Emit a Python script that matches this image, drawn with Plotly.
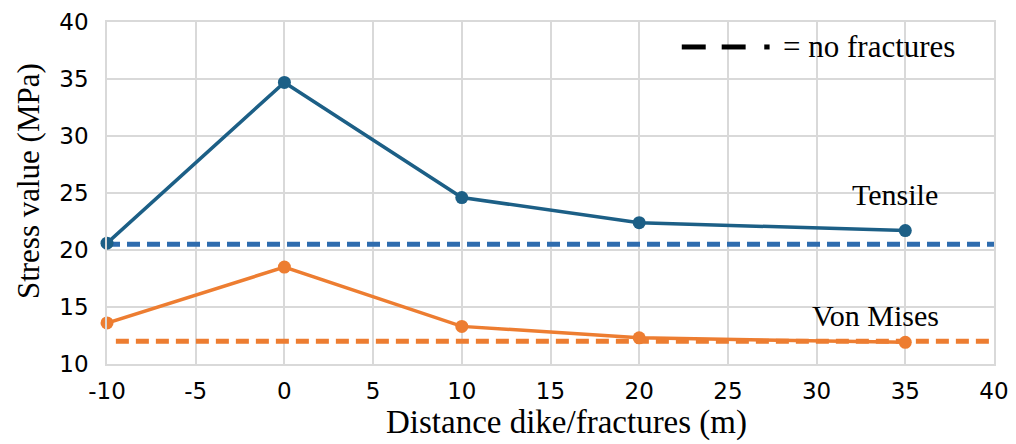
import plotly.graph_objects as go

distance = [-10, 0, 10, 20, 35]
tensile = [20.6, 34.7, 24.6, 22.4, 21.7]
von_mises = [13.6, 18.5, 13.3, 12.3, 11.9]

tensile_nofrac_x = [-10, 40]
tensile_nofrac = [20.5, 20.5]
vm_nofrac_x = [-9.5, 40]
vm_nofrac = [12.0, 12.0]

x_ticks = [-10, -5, 0, 5, 10, 15, 20, 25, 30, 35, 40]
x_tick_labels = ["-10", "-5", "0", "5", "10", "15", "20", "25", "30", "35", "40"]
y_ticks = [10, 15, 20, 25, 30, 35, 40]

blue = "#1c5f86"
blue_dash = "#2e6cae"
orange = "#ed7d31"

fig = go.Figure()
fig.add_trace(go.Scatter(x=tensile_nofrac_x, y=tensile_nofrac, mode="lines",
                         line=dict(color=blue_dash, width=5, dash="13px,7px"), showlegend=False))
fig.add_trace(go.Scatter(x=vm_nofrac_x, y=vm_nofrac, mode="lines",
                         line=dict(color=orange, width=5, dash="13px,7px"), showlegend=False))
fig.add_trace(go.Scatter(x=distance, y=tensile, mode="lines+markers",
                         line=dict(color=blue, width=3.5), marker=dict(size=13, color=blue),
                         showlegend=False, cliponaxis=False))
fig.add_trace(go.Scatter(x=distance, y=von_mises, mode="lines+markers",
                         line=dict(color=orange, width=3.5), marker=dict(size=13, color=orange),
                         showlegend=False, cliponaxis=False))

# legend-like key: long dash, long dash, dot
for x0, x1 in [(0.648, 0.675), (0.693, 0.720), (0.741, 0.747)]:
    fig.add_shape(type="line", xref="paper", yref="paper", x0=x0, x1=x1, y0=0.927, y1=0.927,
                  line=dict(color="black", width=5))
serif = "Liberation Serif"
fig.add_annotation(xref="paper", yref="paper", x=0.760, y=0.927, xanchor="left", yanchor="middle",
                   text="= no fractures", showarrow=False,
                   font=dict(family=serif, size=31, color="black"))
fig.add_annotation(x=31.9, y=24.9, xanchor="left", yanchor="middle", text="Tensile", showarrow=False,
                   font=dict(family=serif, size=30, color="black"))
fig.add_annotation(x=29.6, y=14.25, xanchor="left", yanchor="middle", text="Von Mises", showarrow=False,
                   font=dict(family=serif, size=30, color="black"))
# axis titles
fig.add_annotation(xref="paper", yref="paper", x=0.5186, y=-0.1725, xanchor="center", yanchor="middle",
                   text="Distance dike/fractures (m)", showarrow=False,
                   font=dict(family=serif, size=33, color="black"))
fig.add_annotation(xref="paper", yref="paper", x=-0.089, y=0.535, xanchor="center", yanchor="middle",
                   text="Stress value (MPa)", textangle=-90, showarrow=False,
                   font=dict(family=serif, size=31, color="black"))

fig.update_layout(
    width=1016, height=444,
    margin=dict(l=107, r=22, t=22, b=80, autoexpand=False),
    plot_bgcolor="white", paper_bgcolor="white",
    xaxis=dict(range=[-10, 40], tickvals=x_ticks, ticktext=x_tick_labels, automargin=False,
               showgrid=True, gridcolor="#d9d9d9", gridwidth=1.5,
               showline=True, linecolor="#d9d9d9", linewidth=1.5, mirror=True, zeroline=False,
               ticks="outside", ticklen=6, tickcolor="rgba(0,0,0,0)",
               tickfont=dict(family="DejaVu Sans", size=23, color="black")),
    yaxis=dict(range=[10, 40], tickvals=y_ticks, automargin=False,
               showgrid=True, gridcolor="#d9d9d9", gridwidth=1.5,
               showline=True, linecolor="#d9d9d9", linewidth=1.5, mirror=True, zeroline=False,
               ticks="outside", ticklen=12, tickcolor="rgba(0,0,0,0)",
               tickfont=dict(family="DejaVu Sans", size=23, color="black")),
)

fig.write_html("out.html", config={"displayModeBar": False},
               post_script="document.body.style.margin='0';")
